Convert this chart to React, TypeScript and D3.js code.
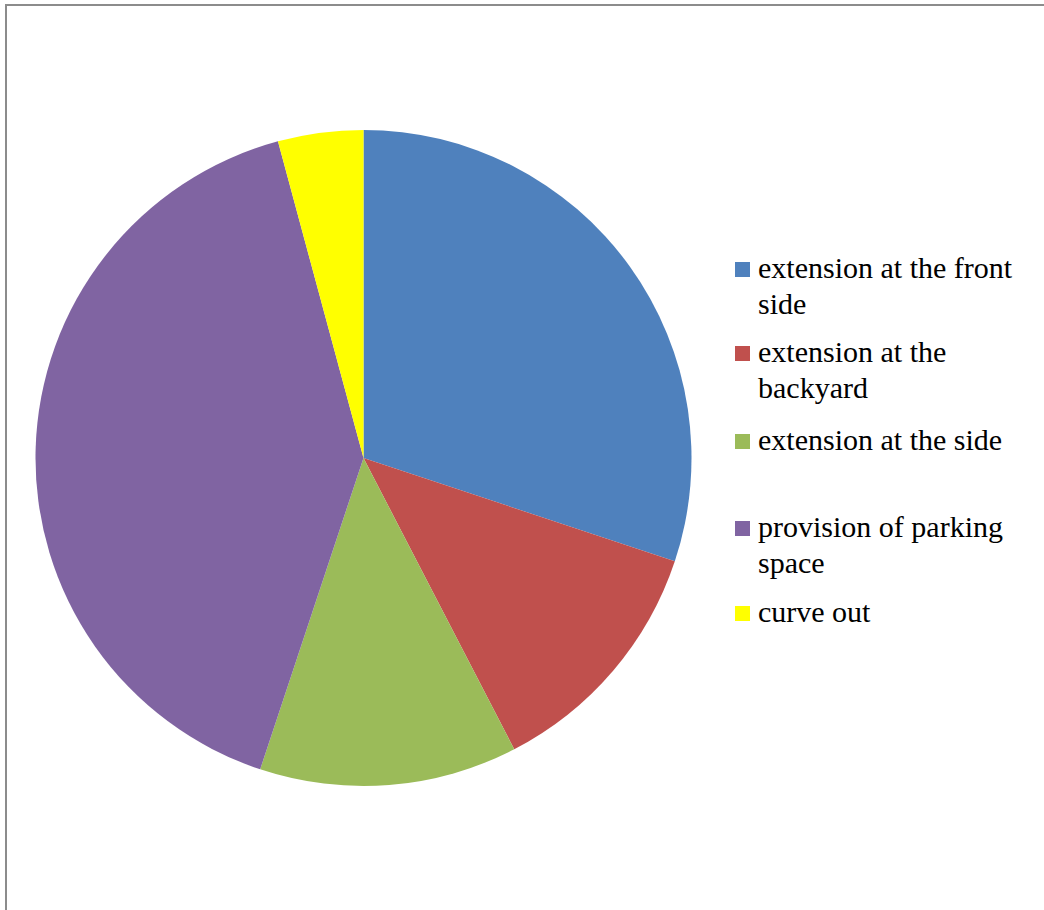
import React, { useEffect, useRef } from "react";
import * as d3 from "d3";

const categories = [
  "extension at the front side",
  "extension at the backyard",
  "extension at the side",
  "provision of parking space",
  "curve out",
];
const values = [30.1, 12.3, 12.7, 40.7, 4.2];
const colors = ["#4F81BD", "#C0504D", "#9BBB59", "#8064A2", "#FFFF00"];
const legendLines = [
  ["extension at the front", "side"],
  ["extension at the", "backyard"],
  ["extension at the side"],
  ["provision of parking", "space"],
  ["curve out"],
];
const legendBaselines = [278, 362, 450, 537, 622];

export default function App() {
  const ref = useRef<SVGSVGElement>(null);
  useEffect(() => {
    if (!ref.current) return;
    d3.select(ref.current)
      .selectAll("text")
      .style("font-family", "'Liberation Serif', 'Times New Roman', serif", "important")
      .style("font-size", "30px", "important");
  }, []);
  const W = 1044, H = 910;
  const cx = 363.5, cy = 458, r = 328;
  const pie = d3.pie<number>().sort(null).value((d) => d);
  const arcs = pie(values);
  const arc = d3.arc<d3.PieArcDatum<number>>().innerRadius(0).outerRadius(r);
  return (
    <svg ref={ref} width={W} height={H} style={{ position: "absolute", left: 0, top: 0 }}>
      <rect x={0} y={0} width={W} height={H} fill="#fff" />
      <rect x={6} y={5} width={W + 20} height={H + 20} fill="none" stroke="#8c8c8c" strokeWidth={2} />
      <g transform={`translate(${cx},${cy})`}>
        {arcs.map((a, i) => (
          <path key={i} d={arc(a) || ""} fill={colors[i]} />
        ))}
      </g>
      <g>
        {categories.map((c, i) => (
          <g key={c}>
            <rect x={735} y={legendBaselines[i] - 16} width={15} height={15} fill={colors[i]} />
            {legendLines[i].map((ln, j) => (
              <text key={j} x={758} y={legendBaselines[i] + j * 36} fontFamily="Liberation Serif" fontSize={30} fill="#000">{ln}</text>
            ))}
          </g>
        ))}
      </g>
    </svg>
  );
}
